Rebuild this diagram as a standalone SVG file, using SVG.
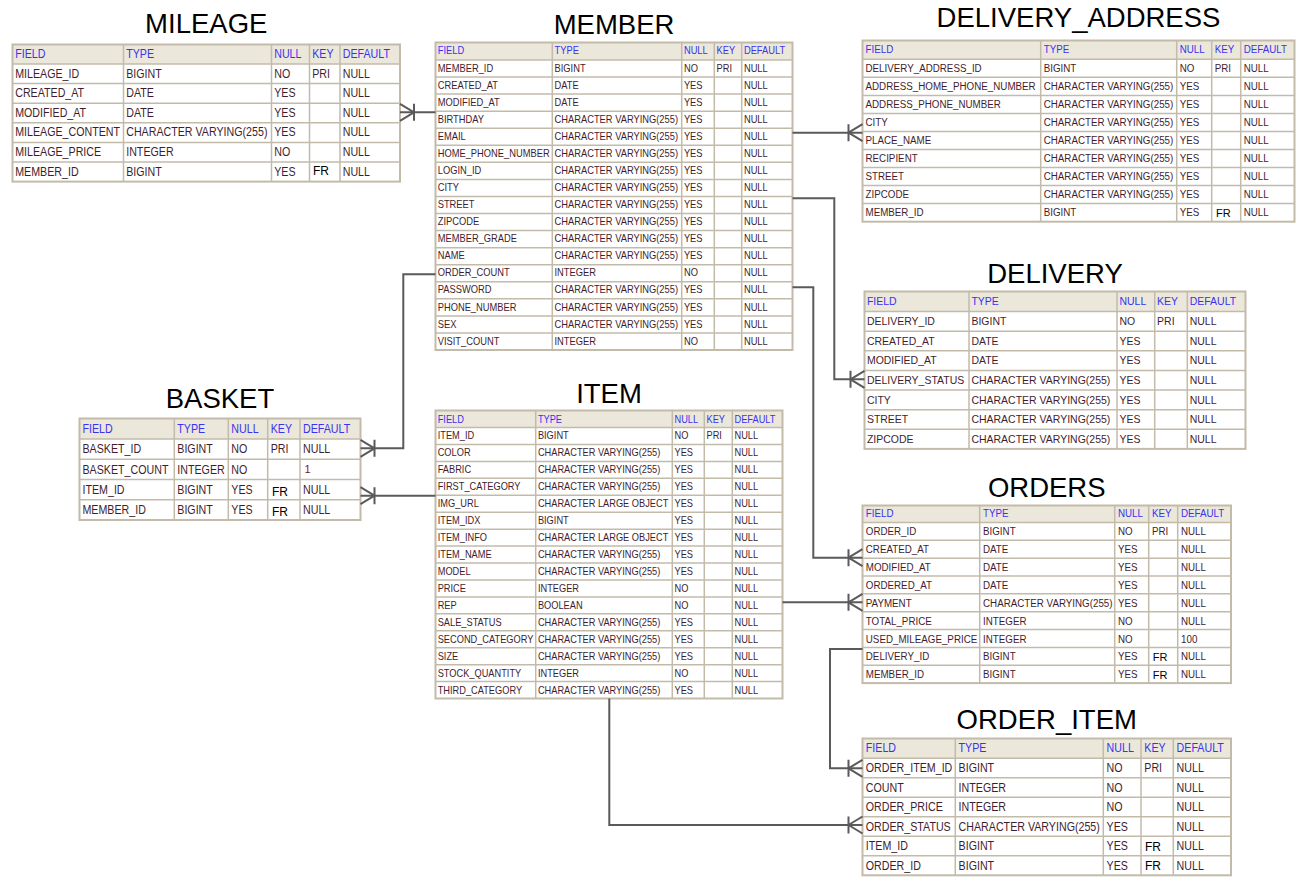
<svg xmlns="http://www.w3.org/2000/svg" width="1301" height="883" viewBox="0 0 1301 883">
<style>
text { font-family: "Liberation Sans", Arial, Helvetica, sans-serif; }
.t { font-size: 27.5px; fill: #000; text-anchor: middle; }
.h, .c { transform-box: fill-box; transform-origin: 0 0; transform: scaleX(0.89); }
.h { fill: #3a32f0; }
.c { fill: #3f1d2e; }
.k { fill: #000; }
.r { fill: #8a1020; }
.bg { fill: #fff; }
.hb { fill: #ebe7da; }
.ob { fill: none; stroke: #c3bbaa; stroke-width: 2; }
.g { fill: none; stroke: #c3bbaa; stroke-width: 1.5; }
#connectors path { fill: none; stroke: #5a5a5a; stroke-width: 2; marker-end: url(#crow); }
</style>
<defs>
<marker id="crow" viewBox="-16 -10 18 20" refX="0" refY="0" markerWidth="18" markerHeight="20" markerUnits="userSpaceOnUse" orient="auto" overflow="visible">
<path d="M-14,0 L0,-8.5 M-14,0 L0,8.5 M-14,-8.5 L-14,8.5" fill="none" stroke="#5a5a5a" stroke-width="2"/>
</marker>
</defs>
<rect width="1301" height="883" fill="#fff"/>

<g id="MILEAGE" transform="translate(12.5,44.5)" font-size="12">
<text class="t" x="193.75" y="-11.2">MILEAGE</text>
<rect class="bg" width="387.5" height="137.1"/>
<rect class="hb" width="387.5" height="19.5"/>
<path class="g" d="M0,19.5H387.5M0,39.1H387.5M0,58.7H387.5M0,78.3H387.5M0,97.9H387.5M0,117.5H387.5M111,0V137.1M259,0V137.1M297,0V137.1M327.5,0V137.1"/>
<rect class="ob" width="387.5" height="137.1"/>
<text class="h" x="2.7" y="13.4">FIELD</text><text class="h" x="113.7" y="13.4">TYPE</text><text class="h" x="261.7" y="13.4">NULL</text><text class="h" x="299.7" y="13.4">KEY</text><text class="h" x="330.2" y="13.4">DEFAULT</text>
<text class="c" x="2.7" y="33.2">MILEAGE_ID</text><text class="c" x="113.7" y="33.2">BIGINT</text><text class="c" x="261.7" y="33.2">NO</text><text class="c" x="299.7" y="33.2">PRI</text><text class="c" x="330.2" y="33.2">NULL</text>
<text class="c" x="2.7" y="52.8">CREATED_AT</text><text class="c" x="113.7" y="52.8">DATE</text><text class="c" x="261.7" y="52.8">YES</text><text class="c" x="330.2" y="52.8">NULL</text>
<text class="c" x="2.7" y="72.4">MODIFIED_AT</text><text class="c" x="113.7" y="72.4">DATE</text><text class="c" x="261.7" y="72.4">YES</text><text class="c" x="330.2" y="72.4">NULL</text>
<text class="c" x="2.7" y="92">MILEAGE_CONTENT</text><text class="c" x="113.7" y="92">CHARACTER VARYING(255)</text><text class="c" x="261.7" y="92">YES</text><text class="c" x="330.2" y="92">NULL</text>
<text class="c" x="2.7" y="111.6">MILEAGE_PRICE</text><text class="c" x="113.7" y="111.6">INTEGER</text><text class="c" x="261.7" y="111.6">NO</text><text class="c" x="330.2" y="111.6">NULL</text>
<text class="c" x="2.7" y="131.2">MEMBER_ID</text><text class="c" x="113.7" y="131.2">BIGINT</text><text class="c" x="261.7" y="131.2">YES</text><text class="k" x="300.5" y="130">FR</text><text class="c" x="330.2" y="131.2">NULL</text>
</g>

<g id="MEMBER" transform="translate(435.5,42.5)" font-size="10.5">
<text class="t" x="178.5" y="-8.2">MEMBER</text>
<rect class="bg" width="357" height="307.5"/>
<rect class="hb" width="357" height="17.5"/>
<path class="g" d="M0,17.5H357M0,34.56H357M0,51.62H357M0,68.68H357M0,85.74H357M0,102.8H357M0,119.86H357M0,136.92H357M0,153.98H357M0,171.04H357M0,188.1H357M0,205.16H357M0,222.22H357M0,239.28H357M0,256.34H357M0,273.4H357M0,290.46H357M116.8,0V307.5M246.2,0V307.5M278.8,0V307.5M306.2,0V307.5"/>
<rect class="ob" width="357" height="307.5"/>
<text class="h" x="2.2" y="12">FIELD</text><text class="h" x="119" y="12">TYPE</text><text class="h" x="248.4" y="12">NULL</text><text class="h" x="281" y="12">KEY</text><text class="h" x="308.4" y="12">DEFAULT</text>
<text class="c" x="2.2" y="29.2">MEMBER_ID</text><text class="c" x="119" y="29.2">BIGINT</text><text class="c" x="248.4" y="29.2">NO</text><text class="c" x="281" y="29.2">PRI</text><text class="c" x="308.4" y="29.2">NULL</text>
<text class="c" x="2.2" y="46.26">CREATED_AT</text><text class="c" x="119" y="46.26">DATE</text><text class="c" x="248.4" y="46.26">YES</text><text class="c" x="308.4" y="46.26">NULL</text>
<text class="c" x="2.2" y="63.32">MODIFIED_AT</text><text class="c" x="119" y="63.32">DATE</text><text class="c" x="248.4" y="63.32">YES</text><text class="c" x="308.4" y="63.32">NULL</text>
<text class="c" x="2.2" y="80.38">BIRTHDAY</text><text class="c" x="119" y="80.38">CHARACTER VARYING(255)</text><text class="c" x="248.4" y="80.38">YES</text><text class="c" x="308.4" y="80.38">NULL</text>
<text class="c" x="2.2" y="97.44">EMAIL</text><text class="c" x="119" y="97.44">CHARACTER VARYING(255)</text><text class="c" x="248.4" y="97.44">YES</text><text class="c" x="308.4" y="97.44">NULL</text>
<text class="c" x="2.2" y="114.5">HOME_PHONE_NUMBER</text><text class="c" x="119" y="114.5">CHARACTER VARYING(255)</text><text class="c" x="248.4" y="114.5">YES</text><text class="c" x="308.4" y="114.5">NULL</text>
<text class="c" x="2.2" y="131.56">LOGIN_ID</text><text class="c" x="119" y="131.56">CHARACTER VARYING(255)</text><text class="c" x="248.4" y="131.56">YES</text><text class="c" x="308.4" y="131.56">NULL</text>
<text class="c" x="2.2" y="148.62">CITY</text><text class="c" x="119" y="148.62">CHARACTER VARYING(255)</text><text class="c" x="248.4" y="148.62">YES</text><text class="c" x="308.4" y="148.62">NULL</text>
<text class="c" x="2.2" y="165.68">STREET</text><text class="c" x="119" y="165.68">CHARACTER VARYING(255)</text><text class="c" x="248.4" y="165.68">YES</text><text class="c" x="308.4" y="165.68">NULL</text>
<text class="c" x="2.2" y="182.74">ZIPCODE</text><text class="c" x="119" y="182.74">CHARACTER VARYING(255)</text><text class="c" x="248.4" y="182.74">YES</text><text class="c" x="308.4" y="182.74">NULL</text>
<text class="c" x="2.2" y="199.8">MEMBER_GRADE</text><text class="c" x="119" y="199.8">CHARACTER VARYING(255)</text><text class="c" x="248.4" y="199.8">YES</text><text class="c" x="308.4" y="199.8">NULL</text>
<text class="c" x="2.2" y="216.86">NAME</text><text class="c" x="119" y="216.86">CHARACTER VARYING(255)</text><text class="c" x="248.4" y="216.86">YES</text><text class="c" x="308.4" y="216.86">NULL</text>
<text class="c" x="2.2" y="233.92">ORDER_COUNT</text><text class="c" x="119" y="233.92">INTEGER</text><text class="c" x="248.4" y="233.92">NO</text><text class="c" x="308.4" y="233.92">NULL</text>
<text class="c" x="2.2" y="250.98">PASSWORD</text><text class="c" x="119" y="250.98">CHARACTER VARYING(255)</text><text class="c" x="248.4" y="250.98">YES</text><text class="c" x="308.4" y="250.98">NULL</text>
<text class="c" x="2.2" y="268.04">PHONE_NUMBER</text><text class="c" x="119" y="268.04">CHARACTER VARYING(255)</text><text class="c" x="248.4" y="268.04">YES</text><text class="c" x="308.4" y="268.04">NULL</text>
<text class="c" x="2.2" y="285.1">SEX</text><text class="c" x="119" y="285.1">CHARACTER VARYING(255)</text><text class="c" x="248.4" y="285.1">YES</text><text class="c" x="308.4" y="285.1">NULL</text>
<text class="c" x="2.2" y="302.16">VISIT_COUNT</text><text class="c" x="119" y="302.16">INTEGER</text><text class="c" x="248.4" y="302.16">NO</text><text class="c" x="308.4" y="302.16">NULL</text>
</g>

<g id="DELIVERY_ADDRESS" transform="translate(862.5,40.5)" font-size="11">
<text class="t" x="216" y="-13.8">DELIVERY_ADDRESS</text>
<rect class="bg" width="432" height="181.2"/>
<rect class="hb" width="432" height="18.8"/>
<path class="g" d="M0,18.8H432M0,36.84H432M0,54.88H432M0,72.92H432M0,90.96H432M0,109H432M0,127.04H432M0,145.08H432M0,163.12H432M178.2,0V181.2M314.2,0V181.2M349.2,0V181.2M378.2,0V181.2"/>
<rect class="ob" width="432" height="181.2"/>
<text class="h" x="3" y="12.6">FIELD</text><text class="h" x="181.2" y="12.6">TYPE</text><text class="h" x="317.2" y="12.6">NULL</text><text class="h" x="352.2" y="12.6">KEY</text><text class="h" x="381.2" y="12.6">DEFAULT</text>
<text class="c" x="3" y="31.5">DELIVERY_ADDRESS_ID</text><text class="c" x="181.2" y="31.5">BIGINT</text><text class="c" x="317.2" y="31.5">NO</text><text class="c" x="352.2" y="31.5">PRI</text><text class="c" x="381.2" y="31.5">NULL</text>
<text class="c" x="3" y="49.54">ADDRESS_HOME_PHONE_NUMBER</text><text class="c" x="181.2" y="49.54">CHARACTER VARYING(255)</text><text class="c" x="317.2" y="49.54">YES</text><text class="c" x="381.2" y="49.54">NULL</text>
<text class="c" x="3" y="67.58">ADDRESS_PHONE_NUMBER</text><text class="c" x="181.2" y="67.58">CHARACTER VARYING(255)</text><text class="c" x="317.2" y="67.58">YES</text><text class="c" x="381.2" y="67.58">NULL</text>
<text class="c" x="3" y="85.62">CITY</text><text class="c" x="181.2" y="85.62">CHARACTER VARYING(255)</text><text class="c" x="317.2" y="85.62">YES</text><text class="c" x="381.2" y="85.62">NULL</text>
<text class="c" x="3" y="103.66">PLACE_NAME</text><text class="c" x="181.2" y="103.66">CHARACTER VARYING(255)</text><text class="c" x="317.2" y="103.66">YES</text><text class="c" x="381.2" y="103.66">NULL</text>
<text class="c" x="3" y="121.7">RECIPIENT</text><text class="c" x="181.2" y="121.7">CHARACTER VARYING(255)</text><text class="c" x="317.2" y="121.7">YES</text><text class="c" x="381.2" y="121.7">NULL</text>
<text class="c" x="3" y="139.74">STREET</text><text class="c" x="181.2" y="139.74">CHARACTER VARYING(255)</text><text class="c" x="317.2" y="139.74">YES</text><text class="c" x="381.2" y="139.74">NULL</text>
<text class="c" x="3" y="157.78">ZIPCODE</text><text class="c" x="181.2" y="157.78">CHARACTER VARYING(255)</text><text class="c" x="317.2" y="157.78">YES</text><text class="c" x="381.2" y="157.78">NULL</text>
<text class="c" x="3" y="175.82">MEMBER_ID</text><text class="c" x="181.2" y="175.82">BIGINT</text><text class="c" x="317.2" y="175.82">YES</text><text class="k" x="353.5" y="176.3">FR</text><text class="c" x="381.2" y="175.82">NULL</text>
</g>

<g id="DELIVERY" transform="translate(864.5,291.5)" font-size="11.8">
<text class="t" x="190.5" y="-8.2">DELIVERY</text>
<rect class="bg" width="381" height="157.4"/>
<rect class="hb" width="381" height="20"/>
<path class="g" d="M0,20H381M0,39.63H381M0,59.26H381M0,78.89H381M0,98.52H381M0,118.15H381M0,137.78H381M104.5,0V157.4M252.5,0V157.4M290.2,0V157.4M322.8,0V157.4"/>
<rect class="ob" width="381" height="157.4"/>
<text class="h" x="2.4" y="13.5">FIELD</text><text class="h" x="106.9" y="13.5">TYPE</text><text class="h" x="254.9" y="13.5">NULL</text><text class="h" x="292.6" y="13.5">KEY</text><text class="h" x="325.2" y="13.5">DEFAULT</text>
<text class="c" x="2.4" y="33.7">DELIVERY_ID</text><text class="c" x="106.9" y="33.7">BIGINT</text><text class="c" x="254.9" y="33.7">NO</text><text class="c" x="292.6" y="33.7">PRI</text><text class="c" x="325.2" y="33.7">NULL</text>
<text class="c" x="2.4" y="53.33">CREATED_AT</text><text class="c" x="106.9" y="53.33">DATE</text><text class="c" x="254.9" y="53.33">YES</text><text class="c" x="325.2" y="53.33">NULL</text>
<text class="c" x="2.4" y="72.96">MODIFIED_AT</text><text class="c" x="106.9" y="72.96">DATE</text><text class="c" x="254.9" y="72.96">YES</text><text class="c" x="325.2" y="72.96">NULL</text>
<text class="c" x="2.4" y="92.59">DELIVERY_STATUS</text><text class="c" x="106.9" y="92.59">CHARACTER VARYING(255)</text><text class="c" x="254.9" y="92.59">YES</text><text class="c" x="325.2" y="92.59">NULL</text>
<text class="c" x="2.4" y="112.22">CITY</text><text class="c" x="106.9" y="112.22">CHARACTER VARYING(255)</text><text class="c" x="254.9" y="112.22">YES</text><text class="c" x="325.2" y="112.22">NULL</text>
<text class="c" x="2.4" y="131.85">STREET</text><text class="c" x="106.9" y="131.85">CHARACTER VARYING(255)</text><text class="c" x="254.9" y="131.85">YES</text><text class="c" x="325.2" y="131.85">NULL</text>
<text class="c" x="2.4" y="151.48">ZIPCODE</text><text class="c" x="106.9" y="151.48">CHARACTER VARYING(255)</text><text class="c" x="254.9" y="151.48">YES</text><text class="c" x="325.2" y="151.48">NULL</text>
</g>

<g id="BASKET" transform="translate(79.5,418.5)" font-size="12">
<text class="t" x="140.5" y="-10.2">BASKET</text>
<rect class="bg" width="281" height="101.5"/>
<rect class="hb" width="281" height="20.5"/>
<path class="g" d="M0,20.5H281M0,40.75H281M0,61H281M0,81.25H281M94.8,0V101.5M148.8,0V101.5M188.2,0V101.5M220.5,0V101.5"/>
<rect class="ob" width="281" height="101.5"/>
<text class="h" x="3" y="14.2">FIELD</text><text class="h" x="97.8" y="14.2">TYPE</text><text class="h" x="151.8" y="14.2">NULL</text><text class="h" x="191.2" y="14.2">KEY</text><text class="h" x="223.5" y="14.2">DEFAULT</text>
<text class="c" x="3" y="34.8">BASKET_ID</text><text class="c" x="97.8" y="34.8">BIGINT</text><text class="c" x="151.8" y="34.8">NO</text><text class="c" x="191.2" y="34.8">PRI</text><text class="c" x="223.5" y="34.8">NULL</text>
<text class="c" x="3" y="55.05">BASKET_COUNT</text><text class="c" x="97.8" y="55.05">INTEGER</text><text class="c" x="151.8" y="55.05">NO</text><text class="r" x="225" y="54.6" font-size="11">1</text>
<text class="c" x="3" y="75.3">ITEM_ID</text><text class="c" x="97.8" y="75.3">BIGINT</text><text class="c" x="151.8" y="75.3">YES</text><text class="k" x="192.5" y="77">FR</text><text class="c" x="223.5" y="75.3">NULL</text>
<text class="c" x="3" y="95.55">MEMBER_ID</text><text class="c" x="97.8" y="95.55">BIGINT</text><text class="c" x="151.8" y="95.55">YES</text><text class="k" x="192.5" y="97.2">FR</text><text class="c" x="223.5" y="95.55">NULL</text>
</g>

<g id="ITEM" transform="translate(435.5,410.5)" font-size="10.4">
<text class="t" x="173.5" y="-7.2">ITEM</text>
<rect class="bg" width="347" height="288"/>
<rect class="hb" width="347" height="17"/>
<path class="g" d="M0,17H347M0,33.94H347M0,50.88H347M0,67.82H347M0,84.76H347M0,101.7H347M0,118.64H347M0,135.58H347M0,152.52H347M0,169.46H347M0,186.4H347M0,203.34H347M0,220.28H347M0,237.22H347M0,254.16H347M0,271.1H347M100.2,0V288M236.8,0V288M268.8,0V288M296.8,0V288"/>
<rect class="ob" width="347" height="288"/>
<text class="h" x="2.2" y="12.2">FIELD</text><text class="h" x="102.4" y="12.2">TYPE</text><text class="h" x="239" y="12.2">NULL</text><text class="h" x="271" y="12.2">KEY</text><text class="h" x="299" y="12.2">DEFAULT</text>
<text class="c" x="2.2" y="29">ITEM_ID</text><text class="c" x="102.4" y="29">BIGINT</text><text class="c" x="239" y="29">NO</text><text class="c" x="271" y="29">PRI</text><text class="c" x="299" y="29">NULL</text>
<text class="c" x="2.2" y="45.94">COLOR</text><text class="c" x="102.4" y="45.94">CHARACTER VARYING(255)</text><text class="c" x="239" y="45.94">YES</text><text class="c" x="299" y="45.94">NULL</text>
<text class="c" x="2.2" y="62.88">FABRIC</text><text class="c" x="102.4" y="62.88">CHARACTER VARYING(255)</text><text class="c" x="239" y="62.88">YES</text><text class="c" x="299" y="62.88">NULL</text>
<text class="c" x="2.2" y="79.82">FIRST_CATEGORY</text><text class="c" x="102.4" y="79.82">CHARACTER VARYING(255)</text><text class="c" x="239" y="79.82">YES</text><text class="c" x="299" y="79.82">NULL</text>
<text class="c" x="2.2" y="96.76">IMG_URL</text><text class="c" x="102.4" y="96.76">CHARACTER LARGE OBJECT</text><text class="c" x="239" y="96.76">YES</text><text class="c" x="299" y="96.76">NULL</text>
<text class="c" x="2.2" y="113.7">ITEM_IDX</text><text class="c" x="102.4" y="113.7">BIGINT</text><text class="c" x="239" y="113.7">YES</text><text class="c" x="299" y="113.7">NULL</text>
<text class="c" x="2.2" y="130.64">ITEM_INFO</text><text class="c" x="102.4" y="130.64">CHARACTER LARGE OBJECT</text><text class="c" x="239" y="130.64">YES</text><text class="c" x="299" y="130.64">NULL</text>
<text class="c" x="2.2" y="147.58">ITEM_NAME</text><text class="c" x="102.4" y="147.58">CHARACTER VARYING(255)</text><text class="c" x="239" y="147.58">YES</text><text class="c" x="299" y="147.58">NULL</text>
<text class="c" x="2.2" y="164.52">MODEL</text><text class="c" x="102.4" y="164.52">CHARACTER VARYING(255)</text><text class="c" x="239" y="164.52">YES</text><text class="c" x="299" y="164.52">NULL</text>
<text class="c" x="2.2" y="181.46">PRICE</text><text class="c" x="102.4" y="181.46">INTEGER</text><text class="c" x="239" y="181.46">NO</text><text class="c" x="299" y="181.46">NULL</text>
<text class="c" x="2.2" y="198.4">REP</text><text class="c" x="102.4" y="198.4">BOOLEAN</text><text class="c" x="239" y="198.4">NO</text><text class="c" x="299" y="198.4">NULL</text>
<text class="c" x="2.2" y="215.34">SALE_STATUS</text><text class="c" x="102.4" y="215.34">CHARACTER VARYING(255)</text><text class="c" x="239" y="215.34">YES</text><text class="c" x="299" y="215.34">NULL</text>
<text class="c" x="2.2" y="232.28">SECOND_CATEGORY</text><text class="c" x="102.4" y="232.28">CHARACTER VARYING(255)</text><text class="c" x="239" y="232.28">YES</text><text class="c" x="299" y="232.28">NULL</text>
<text class="c" x="2.2" y="249.22">SIZE</text><text class="c" x="102.4" y="249.22">CHARACTER VARYING(255)</text><text class="c" x="239" y="249.22">YES</text><text class="c" x="299" y="249.22">NULL</text>
<text class="c" x="2.2" y="266.16">STOCK_QUANTITY</text><text class="c" x="102.4" y="266.16">INTEGER</text><text class="c" x="239" y="266.16">NO</text><text class="c" x="299" y="266.16">NULL</text>
<text class="c" x="2.2" y="283.1">THIRD_CATEGORY</text><text class="c" x="102.4" y="283.1">CHARACTER VARYING(255)</text><text class="c" x="239" y="283.1">YES</text><text class="c" x="299" y="283.1">NULL</text>
</g>

<g id="ORDERS" transform="translate(862.5,505.5)" font-size="11">
<text class="t" x="184.25" y="-8.8">ORDERS</text>
<rect class="bg" width="368.5" height="177.6"/>
<rect class="hb" width="368.5" height="17"/>
<path class="g" d="M0,17H368.5M0,34.84H368.5M0,52.68H368.5M0,70.52H368.5M0,88.36H368.5M0,106.2H368.5M0,124.04H368.5M0,141.88H368.5M0,159.72H368.5M117.2,0V177.6M252.2,0V177.6M286.2,0V177.6M315.2,0V177.6"/>
<rect class="ob" width="368.5" height="177.6"/>
<text class="h" x="3.3" y="11.8">FIELD</text><text class="h" x="120.5" y="11.8">TYPE</text><text class="h" x="255.5" y="11.8">NULL</text><text class="h" x="289.5" y="11.8">KEY</text><text class="h" x="318.5" y="11.8">DEFAULT</text>
<text class="c" x="3.3" y="30">ORDER_ID</text><text class="c" x="120.5" y="30">BIGINT</text><text class="c" x="255.5" y="30">NO</text><text class="c" x="289.5" y="30">PRI</text><text class="c" x="318.5" y="30">NULL</text>
<text class="c" x="3.3" y="47.84">CREATED_AT</text><text class="c" x="120.5" y="47.84">DATE</text><text class="c" x="255.5" y="47.84">YES</text><text class="c" x="318.5" y="47.84">NULL</text>
<text class="c" x="3.3" y="65.68">MODIFIED_AT</text><text class="c" x="120.5" y="65.68">DATE</text><text class="c" x="255.5" y="65.68">YES</text><text class="c" x="318.5" y="65.68">NULL</text>
<text class="c" x="3.3" y="83.52">ORDERED_AT</text><text class="c" x="120.5" y="83.52">DATE</text><text class="c" x="255.5" y="83.52">YES</text><text class="c" x="318.5" y="83.52">NULL</text>
<text class="c" x="3.3" y="101.36">PAYMENT</text><text class="c" x="120.5" y="101.36">CHARACTER VARYING(255)</text><text class="c" x="255.5" y="101.36">YES</text><text class="c" x="318.5" y="101.36">NULL</text>
<text class="c" x="3.3" y="119.2">TOTAL_PRICE</text><text class="c" x="120.5" y="119.2">INTEGER</text><text class="c" x="255.5" y="119.2">NO</text><text class="c" x="318.5" y="119.2">NULL</text>
<text class="c" x="3.3" y="137.04">USED_MILEAGE_PRICE</text><text class="c" x="120.5" y="137.04">INTEGER</text><text class="c" x="255.5" y="137.04">NO</text><text class="c" x="318.5" y="137.04">100</text>
<text class="c" x="3.3" y="154.88">DELIVERY_ID</text><text class="c" x="120.5" y="154.88">BIGINT</text><text class="c" x="255.5" y="154.88">YES</text><text class="k" x="290.2" y="155.5">FR</text><text class="c" x="318.5" y="154.88">NULL</text>
<text class="c" x="3.3" y="172.72">MEMBER_ID</text><text class="c" x="120.5" y="172.72">BIGINT</text><text class="c" x="255.5" y="172.72">YES</text><text class="k" x="290.2" y="173.3">FR</text><text class="c" x="318.5" y="172.72">NULL</text>
</g>

<g id="ORDER_ITEM" transform="translate(862.5,738.5)" font-size="12">
<text class="t" x="184.25" y="-9.2">ORDER_ITEM</text>
<rect class="bg" width="368.5" height="136.8"/>
<rect class="hb" width="368.5" height="19.8"/>
<path class="g" d="M0,19.8H368.5M0,39.3H368.5M0,58.8H368.5M0,78.3H368.5M0,97.8H368.5M0,117.3H368.5M92.8,0V136.8M240.8,0V136.8M278.5,0V136.8M310.8,0V136.8"/>
<rect class="ob" width="368.5" height="136.8"/>
<text class="h" x="3.3" y="13.8">FIELD</text><text class="h" x="96.1" y="13.8">TYPE</text><text class="h" x="244.1" y="13.8">NULL</text><text class="h" x="281.8" y="13.8">KEY</text><text class="h" x="314.1" y="13.8">DEFAULT</text>
<text class="c" x="3.3" y="33.8">ORDER_ITEM_ID</text><text class="c" x="96.1" y="33.8">BIGINT</text><text class="c" x="244.1" y="33.8">NO</text><text class="c" x="281.8" y="33.8">PRI</text><text class="c" x="314.1" y="33.8">NULL</text>
<text class="c" x="3.3" y="53.3">COUNT</text><text class="c" x="96.1" y="53.3">INTEGER</text><text class="c" x="244.1" y="53.3">NO</text><text class="c" x="314.1" y="53.3">NULL</text>
<text class="c" x="3.3" y="72.8">ORDER_PRICE</text><text class="c" x="96.1" y="72.8">INTEGER</text><text class="c" x="244.1" y="72.8">NO</text><text class="c" x="314.1" y="72.8">NULL</text>
<text class="c" x="3.3" y="92.3">ORDER_STATUS</text><text class="c" x="96.1" y="92.3">CHARACTER VARYING(255)</text><text class="c" x="244.1" y="92.3">YES</text><text class="c" x="314.1" y="92.3">NULL</text>
<text class="c" x="3.3" y="111.8">ITEM_ID</text><text class="c" x="96.1" y="111.8">BIGINT</text><text class="c" x="244.1" y="111.8">YES</text><text class="k" x="282.5" y="112.8">FR</text><text class="c" x="314.1" y="111.8">NULL</text>
<text class="c" x="3.3" y="131.3">ORDER_ID</text><text class="c" x="96.1" y="131.3">BIGINT</text><text class="c" x="244.1" y="131.3">YES</text><text class="k" x="282.5" y="131.8">FR</text><text class="c" x="314.1" y="131.3">NULL</text>
</g>

<g id="connectors">
<path d="M435.5,112.3 H400"/>
<path d="M792.5,132.7 H862.5"/>
<path d="M792.5,198.3 H834.3 V379.3 H864.5"/>
<path d="M792.5,287.3 H813.3 V557.7 H862.5"/>
<path d="M435.5,274.3 H403.3 V448.3 H360.5"/>
<path d="M435.5,495.7 H360.5"/>
<path d="M782.5,602.3 H862.5"/>
<path d="M862.5,649 H830 V768.3 H862.5"/>
<path d="M609.3,698.5 V825 H862.5"/>
</g>
</svg>
